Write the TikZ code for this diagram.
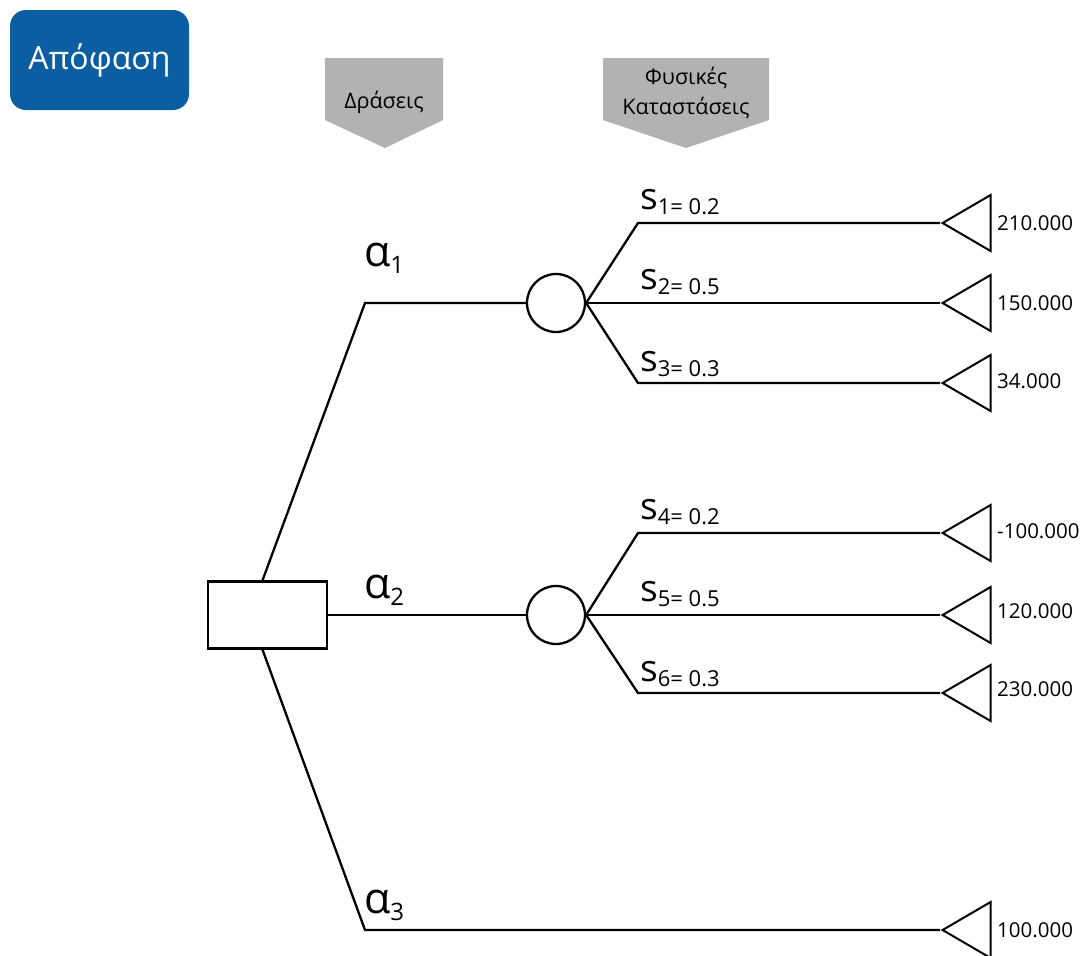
\documentclass[tikz,border=0pt]{standalone}
\usepackage{fontspec}
\setmainfont{Open Sans}
\usetikzlibrary{shapes.geometric}
\definecolor{decblue}{HTML}{0B5EA1}
\definecolor{hdrgray}{HTML}{B2B2B2}

% labels of the form  s_{k= p}  and  alpha_k
\newcommand{\stlabel}[2]{\fontsize{37}{37}\selectfont s\raisebox{-5pt}{\fontsize{22}{22}\selectfont #1= #2}}
\newcommand{\aclabel}[1]{\fontsize{43}{43}\selectfont α\raisebox{-7pt}{\fontsize{24}{24}\selectfont #1}}

\begin{document}
\begin{tikzpicture}[x=1pt,y=-1pt,
  link/.style={line width=2.3pt, line join=miter},
  choice/.style={rectangle, draw, line width=2.3pt, minimum width=119pt, minimum height=67pt, inner sep=0pt},
  chance/.style={circle, draw, line width=2.3pt, minimum size=58pt, inner sep=0pt},
  payoff/.style={isosceles triangle, shape border rotate=180, isosceles triangle stretches,
    draw, line width=2pt, minimum width=56pt, minimum height=48pt, inner sep=0pt, anchor=apex},
  value/.style={anchor=west, inner sep=0pt, font=\fontsize{20.5}{22}\selectfont},
  lbl/.style={anchor=base west, inner sep=0pt},
  headbox/.style={rectangle, rounded corners=16pt, fill=decblue, text=white,
    minimum width=179pt, minimum height=100pt, font=\fontsize{32}{36}\selectfont},
  hdrtext/.style={inner sep=0pt, align=center, font=\fontsize{21.5}{30}\selectfont},
]
\useasboundingbox (0,0) rectangle (1085,956);

% title and column headers
\node[headbox] (title) at (99.5,60) {Απόφαση};
\fill[hdrgray] (325,58) -- (443,58) -- (443,120) -- (385,148) -- (325,120) -- cycle;
\node[hdrtext] (acts) at (384,102) {Δράσεις};
\fill[hdrgray] (603,58) -- (769,58) -- (769,120) -- (686,148) -- (603,120) -- cycle;
\node[hdrtext] (states) at (686,93) {Φυσικές\\Καταστάσεις};

% decision and chance nodes
\node[choice] (d) at (267.5,615) {};
\node[chance] (c1) at (556,303) {};
\node[chance] (c2) at (556,615) {};

% bend points
\coordinate (b1) at (365,303);
\coordinate (b3) at (365,930);
\coordinate (k11) at (638,223);
\coordinate (k13) at (638,383);
\coordinate (k21) at (638,533);
\coordinate (k23) at (638,693);

% terminal payoffs
\node[payoff] (t1) at (940,223) {};
\node[payoff] (t2) at (940,303) {};
\node[payoff] (t3) at (940,383) {};
\node[payoff] (t4) at (940,533) {};
\node[payoff] (t5) at (940,615) {};
\node[payoff] (t6) at (940,693) {};
\node[payoff] (t7) at (940,930) {};

\node[value] (v1) at (997,223) {210.000};
\node[value] (v2) at (997,303) {150.000};
\node[value] (v3) at (997,381) {34.000};
\node[value] (v4) at (997,531) {-100.000};
\node[value] (v5) at (997,611) {120.000};
\node[value] (v6) at (997,689) {230.000};
\node[value] (v7) at (997,930) {100.000};

% action branches
\draw[link] ([xshift=-5pt]d.north) -- (b1) -- (c1.west);
\draw[link] (d.east) -- (c2.west);
\draw[link] ([xshift=-5pt]d.south) -- (b3) -- (t7.apex);

% state branches
\draw[link] (c1.east) -- (k11) -- (t1.apex);
\draw[link] (c1.east) -- (t2.apex);
\draw[link] (c1.east) -- (k13) -- (t3.apex);
\draw[link] (c2.east) -- (k21) -- (t4.apex);
\draw[link] (c2.east) -- (t5.apex);
\draw[link] (c2.east) -- (k23) -- (t6.apex);

% branch labels
\node[lbl] (a1) at (364,266) {\aclabel{1}};
\node[lbl] (a2) at (364,598) {\aclabel{2}};
\node[lbl] (a3) at (364,913) {\aclabel{3}};

\node[lbl] (s1) at (640,209) {\stlabel{1}{0.2}};
\node[lbl] (s2) at (640,289) {\stlabel{2}{0.5}};
\node[lbl] (s3) at (640,371) {\stlabel{3}{0.3}};
\node[lbl] (s4) at (640,519) {\stlabel{4}{0.2}};
\node[lbl] (s5) at (640,601) {\stlabel{5}{0.5}};
\node[lbl] (s6) at (640,681) {\stlabel{6}{0.3}};
\end{tikzpicture}
\end{document}
